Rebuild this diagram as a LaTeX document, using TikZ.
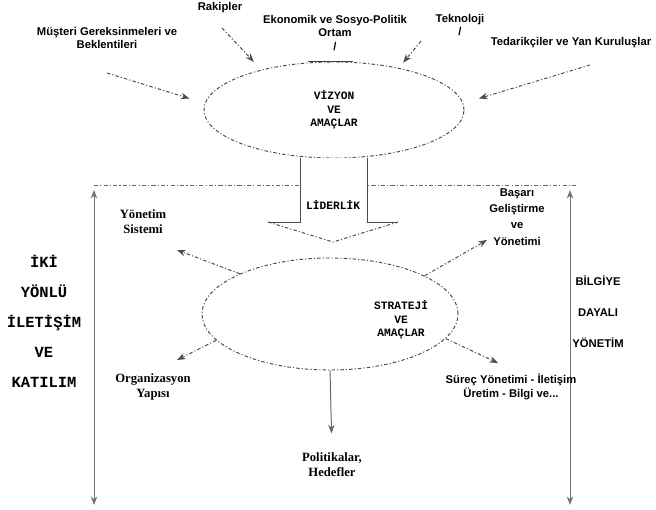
\documentclass[tikz,border=0pt]{standalone}
\usepackage{fontspec}
\setmainfont{Liberation Serif}
\setsansfont{Liberation Sans}
\setmonofont{Liberation Mono}
\usetikzlibrary{arrows.meta, shapes.geometric, positioning}

\begin{document}
\begin{tikzpicture}[
  x=0.025cm, y=-0.025cm,
  every node/.style={align=center, inner sep=1pt},
  toplabel/.style={font=\sffamily\bfseries\fontsize{8}{9.5}\selectfont},
  sidelabel/.style={font=\sffamily\bfseries\fontsize{8}{9.5}\selectfont},
  outlabel/.style={font=\rmfamily\bfseries\fontsize{9}{10.5}\selectfont},
  boxtext/.style={font=\ttfamily\bfseries\fontsize{8}{9.5}\selectfont},
  oval/.style={draw=black!70, line width=0.7pt, ellipse, inner sep=0pt,
    dash pattern=on 2.5pt off 1.5pt on 0.8pt off 1.5pt},
  link/.style={draw=black!70, line width=0.7pt,
    dash pattern=on 2.5pt off 1.5pt on 0.8pt off 1.5pt, -{Stealth[scale=1]}},
  solidlink/.style={draw=black!60, line width=0.7pt, -{Stealth[scale=1]}},
  sidearrow/.style={draw=black!55, line width=0.7pt, {Stealth[scale=1]}-{Stealth[scale=1]}},
]
\useasboundingbox (0,0) rectangle (656,510);

\node[oval, boxtext, minimum width=6.5cm, minimum height=2.4cm] (vision) at (334,110) {VİZYON\\VE\\AMAÇLAR};
\draw[black!75, line width=0.9pt] (vision.north) ++(-26,0) -- ++(45,0);

\node[toplabel] (musteri) at (107,38) {Müşteri Gereksinmeleri ve\\Beklentileri};
\node[toplabel] (rakipler) at (220,8) {Rakipler};
\node[toplabel] (ekonomik) at (335,33) {Ekonomik ve Sosyo-Politik\\Ortam\\/};
\node[toplabel] (teknoloji) at (460,25) {Teknoloji\\/};
\node[toplabel] (tedarik) at (571,43) {Tedarikçiler ve Yan Kuruluşlar};

\coordinate (musterifrom) at (107,73);
\coordinate (rakiplerfrom) at (222,28);
\coordinate (teknolojifrom) at (421,41);
\coordinate (tedarikfrom) at (590,65);

\draw[link, shorten >=4mm] (musterifrom) -- (vision.177);
\draw[link, shorten >=2.7mm] (rakiplerfrom) -- (vision.151);
\draw[link, shorten >=1.7mm] (teknolojifrom) -- (vision.33);
\draw[link, shorten >=4.1mm] (tedarikfrom) -- (vision.3);

\coordinate (lefttop) at (94,190);
\coordinate (leftbottom) at (94,505);
\coordinate (righttop) at (570,190);
\coordinate (rightbottom) at (570,505);
\draw[black!60, line width=0.7pt, dash pattern=on 3pt off 1.5pt on 0.8pt off 1.5pt] (94,185) -- (578,185);
\draw[sidearrow] (lefttop) -- (leftbottom);
\draw[sidearrow] (righttop) -- (rightbottom);

\fill[white] (300,158) -- (300,222) -- (268,222) -- (333,242) -- (398,222) -- (367,222) -- (367,158) -- cycle;
\draw[black!70, line width=0.7pt] (300,158) -- (300,222) -- (268,222);
\draw[black!70, line width=0.7pt] (398,222) -- (367,222) -- (367,158);
\draw[black!70, line width=0.7pt, dash pattern=on 2.5pt off 1.5pt on 0.8pt off 1.5pt] (268,222) -- (333,242) -- (398,222);
\node[boxtext] (liderlik) at (333,205) {LİDERLİK};

\node[oval, minimum width=6.4cm, minimum height=2.8cm] (strategy) at (330,314) {};
\node[boxtext] (strategytext) at (401,320) {STRATEJİ\\VE\\AMAÇLAR};

\node[outlabel] (yonetim) at (143,222) {Yönetim\\Sistemi};
\node[sidelabel] (basari) at (517,217) {Başarı\\[2pt]Geliştirme\\[2pt]ve\\[2pt]Yönetimi};
\node[outlabel] (organizasyon) at (153,387) {Organizasyon\\Yapısı};
\node[sidelabel] (surec) at (511,387) {Süreç Yönetimi - İletişim\\Üretim - Bilgi ve...};
\node[outlabel] (politika) at (332,465) {Politikalar,\\Hedefler};

\coordinate (yonetimtip) at (177,250);
\coordinate (basaritip) at (487,240);
\coordinate (organizasyontip) at (177,360);
\coordinate (surectip) at (498,363);

\draw[link] (strategy.156) -- (yonetimtip);
\draw[link] (strategy.22) -- (basaritip);
\draw[link] (strategy.193) -- (organizasyontip);
\draw[link] (strategy.-12) -- (surectip);
\draw[solidlink, shorten >=4.5mm] (strategy.south) -- (politika.north);

\node[font=\ttfamily\bfseries\fontsize{11}{21.3}\selectfont] (katilim) at (44,321) {İKİ\\YÖNLÜ\\İLETİŞİM\\VE\\KATILIM};
\node[font=\sffamily\bfseries\fontsize{8}{22}\selectfont] (bilgi) at (598,312) {BİLGİYE\\DAYALI\\YÖNETİM};
\end{tikzpicture}
\end{document}
